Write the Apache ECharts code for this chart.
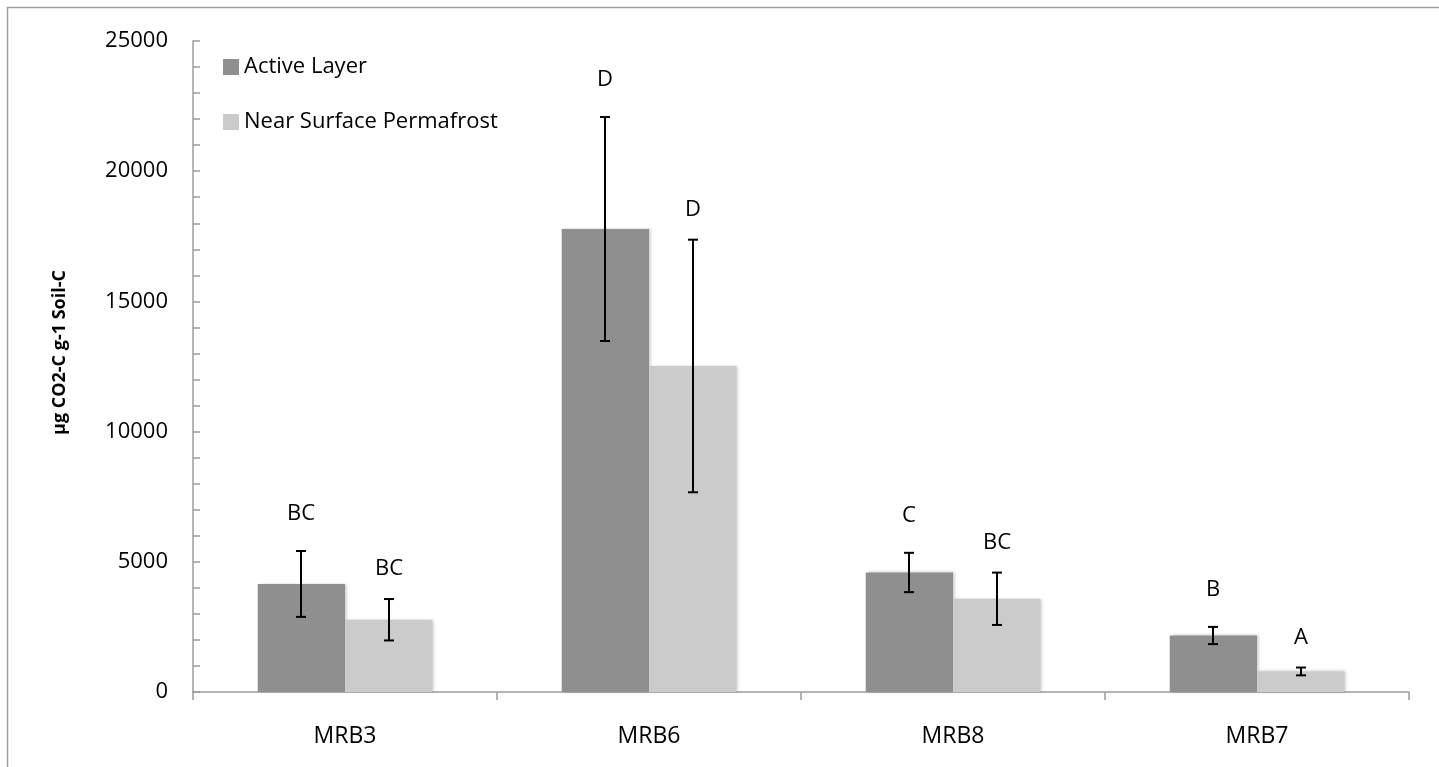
<!DOCTYPE html>
<html>
<head>
<meta charset="utf-8">
<script src="https://cdn.jsdelivr.net/npm/echarts@6/dist/echarts.min.js"></script>
<style>
  html, body { margin: 0; padding: 0; background: #fff; }
  #chart { width: 1439px; height: 767px; }
</style>
</head>
<body>
<div id="chart"></div>
<script>
  // data
  const sites = ["MRB3", "MRB6", "MRB8", "MRB7"];
  const activeMean = [4150, 17780, 4590, 2170];
  const activeErr = [1265, 4300, 755, 330];
  const nearMean = [2775, 12520, 3580, 790];
  const nearErr = [795, 4850, 1005, 150];
  const activeLetters = ["BC", "D", "C", "B"];
  const nearLetters = ["BC", "D", "BC", "A"];
  const yTicks = { min: 0, max: 25000, step: 5000 };

  const FONT = "Open Sans";
  const axisGray = "#9c9c9c";
  const catGap = 0.426;

  const chart = echarts.init(document.getElementById("chart"));

  // error bar + significance letter, drawn on top of each bar
  const errRenderer = (side, letters, gap) => (params, api) => {
    const i = api.value(0);
    const mean = api.value(1);
    const err = api.value(2);
    const band = api.size([1, 0])[0];
    const barW = band * (1 - catGap) / 2;
    const x = Math.round(api.coord([i, 0])[0] + side * barW / 2);
    const yTop = api.coord([i, mean + err])[1];
    const yBot = api.coord([i, mean - err])[1];
    const st = { stroke: "#000", lineWidth: 2 };
    return {
      type: "group",
      children: [
        { type: "line", shape: { x1: x, y1: yTop, x2: x, y2: yBot }, style: st },
        { type: "line", shape: { x1: x - 5, y1: yTop, x2: x + 5, y2: yTop }, style: st },
        { type: "line", shape: { x1: x - 5, y1: yBot, x2: x + 5, y2: yBot }, style: st },
        {
          type: "text",
          x: x,
          y: yTop - gap,
          style: {
            text: letters[params.dataIndex],
            fontFamily: FONT,
            fontSize: 22,
            fill: "#000",
            align: "center",
            verticalAlign: "middle",
          },
        },
      ],
    };
  };

  const barShadow = {
    shadowColor: "rgba(0,0,0,0.22)",
    shadowBlur: 3,
    shadowOffsetX: 2,
    shadowOffsetY: 0,
  };

  const option = {
    animation: false,
    backgroundColor: "#fff",
    textStyle: { fontFamily: FONT },
    graphic: [
      {
        type: "rect",
        shape: { x: 7.5, y: 7.5, width: 2000, height: 2000 },
        style: { fill: "none", stroke: "#a0a0a0", lineWidth: 1.5 },
        silent: true,
      },
    ],
    legend: {
      orient: "vertical",
      left: 218,
      top: 51,
      itemGap: 33,
      itemWidth: 16,
      itemHeight: 16,
      icon: "rect",
      data: ["Active Layer", "Near Surface Permafrost"],
      textStyle: { fontFamily: FONT, fontSize: 22, color: "#000" },
    },
    grid: {
      left: 193,
      right: 30,
      top: 41,
      bottom: 75,
      containLabel: false,
      outerBoundsMode: "none",
    },
    xAxis: {
      type: "category",
      data: sites,
      axisLine: { show: true, lineStyle: { color: axisGray, width: 1.5 } },
      axisTick: { show: true, length: 8, lineStyle: { color: axisGray, width: 1.5 } },
      axisLabel: { fontFamily: FONT, fontSize: 23, color: "#000", margin: 33 },
      splitLine: { show: false },
    },
    yAxis: {
      type: "value",
      min: yTicks.min,
      max: yTicks.max,
      interval: yTicks.step,
      name: "μg CO2-C g-1 Soil-C",
      nameLocation: "middle",
      nameGap: 124,
      nameTextStyle: {
        fontFamily: FONT,
        fontSize: 18,
        fontWeight: "bold",
        color: "#000",
        padding: [0, 0, 0, 28],
      },
      axisLine: { show: true, lineStyle: { color: axisGray, width: 1.5 } },
      axisTick: { show: true, inside: true, length: 7, lineStyle: { color: axisGray, width: 1.5 } },
      minorTick: { show: true, splitNumber: 5, length: 7, lineStyle: { color: axisGray, width: 1.5 } },
      axisLabel: {
        fontFamily: FONT,
        fontSize: 22,
        color: "#000",
        margin: 25,
        formatter: (v) => String(v),
      },
      splitLine: { show: false },
      minorSplitLine: { show: false },
    },
    series: [
      {
        name: "Active Layer",
        type: "bar",
        data: activeMean,
        barGap: "0%",
        barCategoryGap: (catGap * 100) + "%",
        itemStyle: Object.assign({ color: "#8f8f8f" }, barShadow),
      },
      {
        name: "Near Surface Permafrost",
        type: "bar",
        data: nearMean,
        barGap: "0%",
        barCategoryGap: (catGap * 100) + "%",
        itemStyle: Object.assign({ color: "#cbcbcb" }, barShadow),
      },
      {
        name: "active-err",
        type: "custom",
        z: 5,
        renderItem: errRenderer(-1, activeLetters, 37),
        data: sites.map((s, i) => [i, activeMean[i], activeErr[i]]),
      },
      {
        name: "near-err",
        type: "custom",
        z: 5,
        renderItem: errRenderer(1, nearLetters, 30),
        data: sites.map((s, i) => [i, nearMean[i], nearErr[i]]),
      },
    ],
  };

  chart.setOption(option);
</script>
</body>
</html>
